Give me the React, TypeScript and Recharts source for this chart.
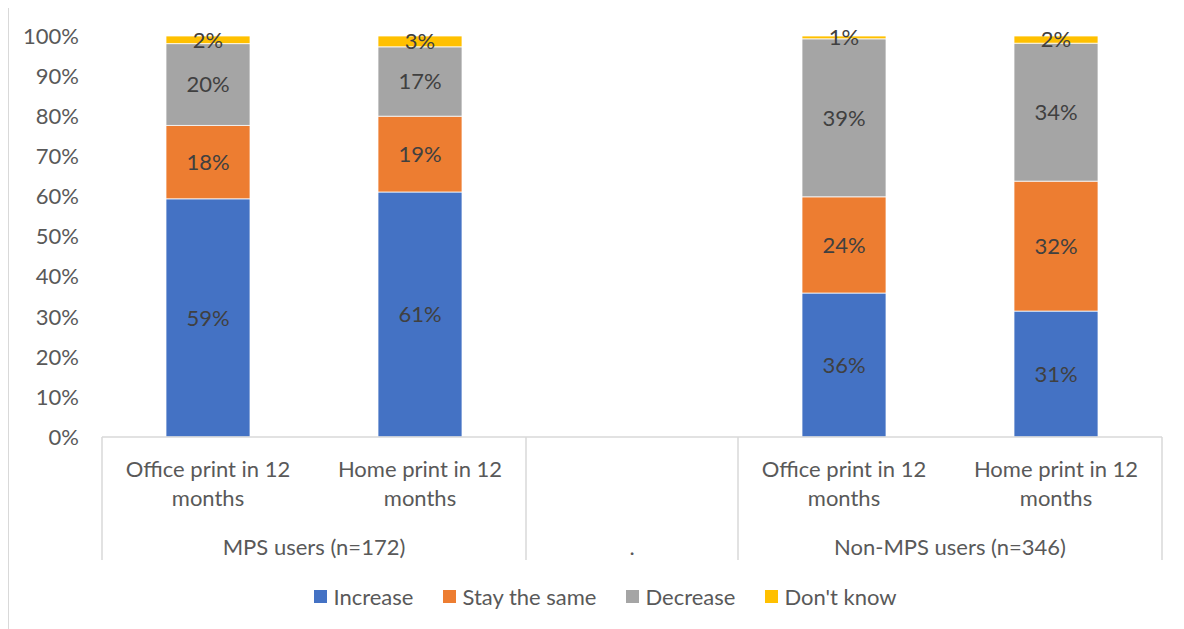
import { BarChart, Bar, XAxis, YAxis, Legend, LabelList } from "recharts";

const categories = [
  "Office print in 12 months",
  "Home print in 12 months",
  "",
  "Office print in 12 months",
  "Home print in 12 months",
];

const groups = [
  { label: "MPS users (n=172)", start: 0, span: 2 },
  { label: ".", start: 2, span: 1 },
  { label: "Non-MPS users (n=346)", start: 3, span: 2 },
];

const increase = [59.4, 61.1, null, 35.9, 31.4];
const stayTheSame = [18.3, 18.9, null, 24.0, 32.4];
const decrease = [20.4, 17.3, null, 39.4, 34.4];
const dontKnow = [1.9, 2.7, null, 0.7, 1.8];

const yTicks = [0, 10, 20, 30, 40, 50, 60, 70, 80, 90, 100];

const series = [
  { key: "increase", name: "Increase", color: "#4472C4" },
  { key: "stay", name: "Stay the same", color: "#ED7D31" },
  { key: "decrease", name: "Decrease", color: "#A5A5A5" },
  { key: "dontKnow", name: "Don't know", color: "#FFC000" },
];

const data = categories.map((name, i) => ({
  name: `${i}`,
  label: name,
  increase: increase[i],
  stay: stayTheSame[i],
  decrease: decrease[i],
  dontKnow: dontKnow[i],
}));

const FONT = "Lato, 'Open Sans', sans-serif";
const TEXT = "#595959";
const GRID = "#d9d9d9";
const FS = 22;

const CHART_W = 1170;
const CHART_H = 622;
const MARGIN = { top: 29, right: 17, bottom: 0, left: 0 };
const Y_W = 93;
const X_H = 123;
const BAND = (CHART_W - MARGIN.left - MARGIN.right - Y_W) / categories.length;

function CategoryTick(props: any) {
  const { x, y, payload } = props;
  const idx = Number(payload.value);
  const text = categories[idx] || "";
  // split into two lines like Excel wraps it
  const cut = text.lastIndexOf(" ");
  const lines = text ? [text.slice(0, cut), text.slice(cut + 1)] : [];
  const group = groups.find((g) => g.start === idx);
  const last = idx === categories.length - 1;
  return (
    <g>
      {lines.map((l, k) => (
        <text
          key={k}
          x={x}
          y={y + 31 + k * 29}
          textAnchor="middle"
          dominantBaseline="central"
          fill={TEXT}
          fontSize={FS}
          fontFamily={FONT}
        >
          {l}
        </text>
      ))}
      {group && (
        <>
          <line x1={x - BAND / 2} x2={x - BAND / 2} y1={y} y2={y + X_H} stroke={GRID} strokeWidth={1.5} />
          <text
            x={x - BAND / 2 + (group.span * BAND) / 2}
            y={y + 109}
            textAnchor="middle"
            dominantBaseline="central"
            fill={TEXT}
            fontSize={FS}
            fontFamily={FONT}
          >
            {group.label}
          </text>
        </>
      )}
      {last && (
        <line x1={x + BAND / 2} x2={x + BAND / 2} y1={y} y2={y + X_H} stroke={GRID} strokeWidth={1.5} />
      )}
    </g>
  );
}

function LegendContent() {
  return (
    <div
      style={{
        display: "flex",
        justifyContent: "center",
        alignItems: "center",
        height: 69,
        paddingTop: 3,
        paddingLeft: 40,
        boxSizing: "border-box",
        fontFamily: FONT,
        fontSize: FS,
        color: TEXT,
      }}
    >
      {series.map((s) => (
        <div key={s.key} style={{ display: "flex", alignItems: "center", margin: "0 15px" }}>
          <span style={{ width: 13, height: 13, background: s.color, marginRight: 6, display: "inline-block" }} />
          <span>{s.name}</span>
        </div>
      ))}
    </div>
  );
}

const fmt = (v: any) => (v == null ? "" : `${Math.round(Number(v))}%`);

export default function App() {
  return (
    <div
      style={{
        width: CHART_W,
        height: CHART_H + 10,
        border: `1px solid ${GRID}`,
        marginTop: -2,
        background: "#fff",
        overflow: "hidden",
      }}
    >
      <BarChart width={CHART_W} height={CHART_H} data={data} margin={MARGIN} barSize={84}>
        <YAxis
          width={Y_W}
          domain={[0, 100]}
          ticks={yTicks}
          tickFormatter={(v) => `${v}%`}
          axisLine={false}
          tickLine={false}
          tickSize={0}
          tickMargin={23}
          tick={{ fill: TEXT, fontSize: FS, fontFamily: FONT }}
        />
        <XAxis
          dataKey="name"
          height={X_H}
          axisLine={{ stroke: GRID, strokeWidth: 1.5 }}
          tickLine={false}
          tickSize={0}
          tickMargin={0}
          interval={0}
          tick={<CategoryTick />}
        />
        <Legend verticalAlign="bottom" height={69} content={<LegendContent />} />
        {series.map((s) => (
          <Bar
            key={s.key}
            dataKey={s.key}
            name={s.name}
            stackId="a"
            fill={s.color}
            stroke="#ffffff"
            strokeWidth={0.75}
            isAnimationActive={false}
          >
            <LabelList
              dataKey={s.key}
              position="center"
              formatter={fmt}
              fill="#404040"
              fontSize={FS}
              fontFamily={FONT}
            />
          </Bar>
        ))}
      </BarChart>
    </div>
  );
}
